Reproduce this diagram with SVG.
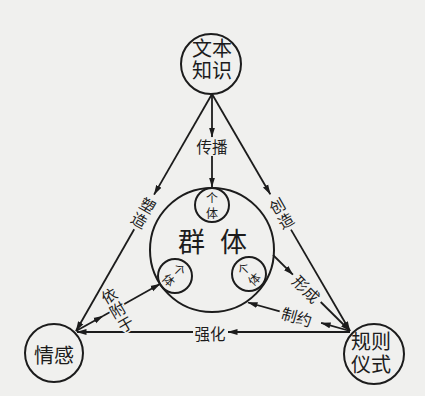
<svg xmlns="http://www.w3.org/2000/svg" width="425" height="396" viewBox="0 0 425 396">
<style>
.ln{stroke:#1c1c1c;stroke-width:1.8;fill:none}
.ar{marker-end:url(#ah)}
.nd{fill:none;stroke:#1c1c1c;stroke-width:2}
.t{font-family:"Noto Sans CJK SC","Noto Sans CJK TC",sans-serif;fill:#1c1c1c;text-anchor:middle;dominant-baseline:central}
.big{font-size:20px}
.lb{font-size:15.5px}
.sm{font-size:12px}
.halo{paint-order:stroke;stroke:#f0f0ee;stroke-width:3}
</style>
<defs>
<marker id="ah" markerWidth="10" markerHeight="7" refX="9.5" refY="3.5" orient="auto" markerUnits="userSpaceOnUse">
<path d="M0,0.5 L10,3.5 L0,6.5 z" fill="#1c1c1c"/>
</marker>
</defs>
<rect width="425" height="396" fill="#f0f0ee"/>
<g id="connectors">
<path class="ln ar" d="M212,94 L212,137"/>
<path class="ln ar" d="M212,156 L212,187"/>
<path class="ln ar" d="M212,94 L154.1,194.6"/>
<path class="ln ar" d="M134.2,229.3 L76,331"/>
<path class="ln ar" d="M212,94 L270.3,194.2"/>
<path class="ln ar" d="M291,229.6 L350,331"/>
<path class="ln ar" d="M273,255 L292.9,274.7"/>
<path class="ln ar" d="M320.7,302 L350,331"/>
<path class="ln ar" d="M350,331 L321.1,322.9"/>
<path class="ln ar" d="M279.7,311.4 L248,302.5"/>
<path class="ln ar" d="M350,332 L228,332"/>
<path class="ln ar" d="M193,332 L77,332"/>
<path class="ln ar" d="M76,331 L103,316"/>
<path class="ln ar" d="M103,316 L160,284"/>
<text class="t lb" x="212" y="146">传播</text>
<text class="t lb" transform="translate(144,212) rotate(30)"><tspan x="0" y="-8.5">塑</tspan><tspan x="0" y="8.5">造</tspan></text>
<text class="t lb" transform="translate(281,212.5) rotate(-30)"><tspan x="0" y="-8.5">创</tspan><tspan x="0" y="8.5">造</tspan></text>
<text class="t lb" transform="translate(307,288.5) rotate(45)">形成</text>
<text class="t lb" transform="translate(297,316) rotate(16)">制约</text>
<text class="t lb" x="210" y="333">强化</text>
<text class="t lb halo" transform="translate(117,309) rotate(-30)"><tspan x="0" y="-16.5">依</tspan><tspan x="0" y="0">附</tspan><tspan x="0" y="16.5">于</tspan></text>
</g>
<g id="node-wenben">
<circle class="nd" cx="211" cy="64" r="30"/>
<text class="t big"><tspan x="212" y="47">文本</tspan><tspan x="212" y="69">知识</tspan></text>
</g>
<g id="node-qinggan">
<circle class="nd" cx="54" cy="353" r="29"/>
<text class="t big" x="54" y="354">情感</text>
</g>
<g id="node-guize">
<circle class="nd" cx="374" cy="354" r="30"/>
<text class="t big"><tspan x="371" y="340">规则</tspan><tspan x="371" y="363">仪式</tspan></text>
</g>
<g id="node-qunti">
<circle class="nd" cx="212" cy="250" r="62"/>
<text class="t" style="font-size:27px"><tspan x="191.5" y="240">群</tspan><tspan x="233.5" y="240">体</tspan></text>
</g>
<g id="node-geti-top">
<circle class="nd" cx="212" cy="205" r="17"/>
<text class="t sm"><tspan x="212" y="197">个</tspan><tspan x="212" y="212">体</tspan></text>
</g>
<g id="node-geti-left">
<circle class="nd" cx="175" cy="276" r="17"/>
<text class="t sm" transform="translate(175,274) rotate(45)"><tspan x="0" y="-7.5">个</tspan><tspan x="0" y="7.5">体</tspan></text>
</g>
<g id="node-geti-right">
<circle class="nd" cx="249" cy="274" r="17"/>
<text class="t sm" transform="translate(248,273) rotate(-45)"><tspan x="0" y="-7.5">个</tspan><tspan x="0" y="7.5">体</tspan></text>
</g>
</svg>
